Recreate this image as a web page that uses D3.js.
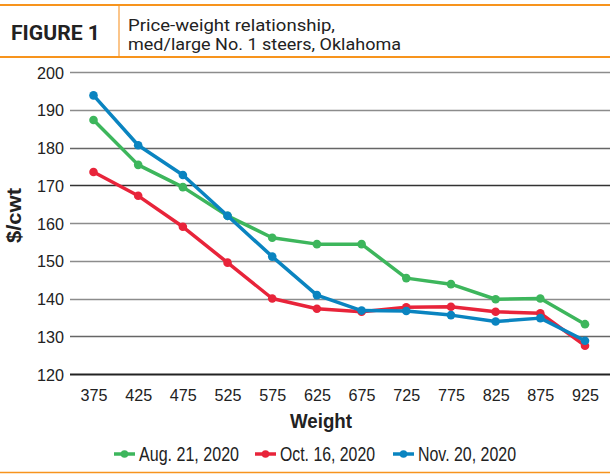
<!DOCTYPE html>
<html>
<head>
<meta charset="utf-8">
<script src="https://cdn.jsdelivr.net/npm/d3@7"></script>
<style>
  body { margin: 0; background: #fff; }
  svg { display: block; }
</style>
</head>
<body>
<svg id="chart" width="610" height="476"></svg>
<script>
// weights (lb)
var weights = [375, 425, 475, 525, 575, 625, 675, 725, 775, 825, 875, 925];

var aug21 = [187.3, 175.4, 169.5, 161.9, 156.1, 154.4, 154.4, 145.4, 143.8, 139.8, 140.0, 133.2];
var oct16 = [173.5, 167.2, 159.0, 149.5, 140.0, 137.3, 136.5, 137.7, 137.8, 136.5, 136.1, 127.5];
var nov20 = [193.8, 180.6, 172.7, 161.9, 151.1, 140.9, 136.8, 136.7, 135.6, 133.9, 134.8, 128.8];

var seriesNames = ['Aug. 21, 2020', 'Oct. 16, 2020', 'Nov. 20, 2020'];
var seriesColors = ['#3db65c', '#e8243a', '#0a84c0'];
var yTicks = [120, 130, 140, 150, 160, 170, 180, 190, 200];

var series = [aug21, oct16, nov20].map(function(vals, i) {
    return {
        name: seriesNames[i],
        color: seriesColors[i],
        values: vals.map(function(v, j) { return { w: weights[j], v: v }; })
    };
});

var svg = d3.select('#chart');
var numFont = '"Liberation Sans", Arial, sans-serif';
var headFont = 'Roboto, "Noto Sans", sans-serif';

// header
svg.append('line').attr('x1', 0).attr('x2', 610).attr('y1', 5).attr('y2', 5)
    .attr('stroke', '#f7941d').attr('stroke-width', 2);
svg.append('line').attr('x1', 0).attr('x2', 610).attr('y1', 57).attr('y2', 57)
    .attr('stroke', '#f7941d').attr('stroke-width', 2);
svg.append('line').attr('x1', 119).attr('x2', 119).attr('y1', 6).attr('y2', 56)
    .attr('stroke', '#fbc58a').attr('stroke-width', 2);
svg.append('text').attr('x', 11).attr('y', 40)
    .style('font-family', headFont).style('font-weight', 'bold')
    .style('font-size', '21px').attr('fill', '#222')
    .attr('textLength', 89).attr('lengthAdjust', 'spacingAndGlyphs')
    .text('FIGURE 1');
svg.append('text').attr('x', 128).attr('y', 31)
    .style('font-family', headFont).style('font-size', '16.5px').attr('fill', '#222')
    .attr('textLength', 207).attr('lengthAdjust', 'spacingAndGlyphs')
    .text('Price-weight relationship,');
svg.append('text').attr('x', 128).attr('y', 50)
    .style('font-family', headFont).style('font-size', '16.5px').attr('fill', '#222')
    .attr('textLength', 273).attr('lengthAdjust', 'spacingAndGlyphs')
    .text('med/large No. 1 steers, Oklahoma');
// bottom rule
svg.append('line').attr('x1', 0).attr('x2', 610).attr('y1', 472.5).attr('y2', 472.5)
    .attr('stroke', '#f7941d').attr('stroke-width', 1.5);

// scales
var xScale = d3.scalePoint()
    .domain(weights)
    .range([93.5, 585]);

var yScale = d3.scaleLinear()
    .domain([120, 200])
    .range([374, 72]);

// grid
var grid = svg.append('g').attr('class', 'grid');
grid.selectAll('line')
    .data(yTicks)
    .enter()
    .append('line')
    .attr('x1', 70)
    .attr('x2', 610)
    .attr('y1', function(d) { return Math.round(yScale(d)) + 0.5; })
    .attr('y2', function(d) { return Math.round(yScale(d)) + 0.5; })
    .attr('stroke', function(d) {
        if (d === 120) return '#222';
        if (d === 170) return '#333';
        if (d === 180 || d === 130) return '#666';
        return '#8c8c8c';
    })
    .attr('stroke-width', function(d) { return d === 120 ? 2 : 1.3; });

// y axis labels
var yAxis = d3.axisLeft(yScale).tickValues(yTicks).tickSize(0).tickPadding(0);
svg.append('g')
    .attr('transform', 'translate(64,0)')
    .call(yAxis)
    .call(function(g) {
        g.select('.domain').remove();
        g.selectAll('text')
            .style('font-family', numFont)
            .style('font-size', '17px')
            .attr('fill', '#222')
            .attr('textLength', 27).attr('lengthAdjust', 'spacingAndGlyphs')
            .attr('dy', '0.36em');
    });

// x axis labels
var xAxis = d3.axisBottom(xScale).tickSize(0).tickPadding(0);
svg.append('g')
    .attr('transform', 'translate(0,389)')
    .call(xAxis)
    .call(function(g) {
        g.select('.domain').remove();
        g.selectAll('text')
            .style('font-family', numFont)
            .style('font-size', '17px')
            .attr('fill', '#222')
            .attr('textLength', 27).attr('lengthAdjust', 'spacingAndGlyphs')
            .attr('dy', '0.71em');
    });

// axis titles
svg.append('text')
    .attr('x', 290).attr('y', 428)
    .style('font-family', numFont).style('font-weight', 'bold').style('font-size', '21px')
    .attr('fill', '#222')
    .attr('textLength', 62).attr('lengthAdjust', 'spacingAndGlyphs')
    .text('Weight');
svg.append('text')
    .attr('transform', 'translate(21,243) rotate(-90)')
    .style('font-family', numFont).style('font-weight', 'bold').style('font-size', '21px')
    .attr('fill', '#222')
    .attr('textLength', 55).attr('lengthAdjust', 'spacingAndGlyphs')
    .text('$/cwt');

// lines
var line = d3.line()
    .x(function(d) { return xScale(d.w); })
    .y(function(d) { return yScale(d.v); });

var seriesG = svg.selectAll('.series')
    .data(series)
    .enter()
    .append('g')
    .attr('class', 'series');

seriesG.append('path')
    .attr('d', function(d) { return line(d.values); })
    .attr('fill', 'none')
    .attr('stroke', function(d) { return d.color; })
    .attr('stroke-width', 3.5)
    .attr('stroke-linejoin', 'round');

seriesG.selectAll('circle')
    .data(function(d) { return d.values.map(function(p) { return { w: p.w, v: p.v, color: d.color }; }); })
    .enter()
    .append('circle')
    .attr('cx', function(d) { return xScale(d.w); })
    .attr('cy', function(d) { return yScale(d.v); })
    .attr('r', 4.3)
    .attr('fill', function(d) { return d.color; });

// legend
var legendX = [114, 255, 393];
var legendW = [100, 95, 98];
var legend = svg.selectAll('.legend')
    .data(series)
    .enter()
    .append('g')
    .attr('class', 'legend')
    .attr('transform', function(d, i) { return 'translate(' + legendX[i] + ',454)'; });

legend.append('line')
    .attr('x1', 0).attr('x2', 21).attr('y1', 0).attr('y2', 0)
    .attr('stroke', function(d) { return d.color; })
    .attr('stroke-width', 3.5);
legend.append('circle')
    .attr('cx', 10.5).attr('cy', 0).attr('r', 3.8)
    .attr('fill', function(d) { return d.color; });
legend.append('text')
    .attr('x', 25).attr('y', 7)
    .style('font-family', numFont).style('font-size', '20px')
    .attr('fill', '#222')
    .attr('textLength', function(d, i) { return legendW[i]; })
    .attr('lengthAdjust', 'spacingAndGlyphs')
    .text(function(d) { return d.name; });
</script>
</body>
</html>
